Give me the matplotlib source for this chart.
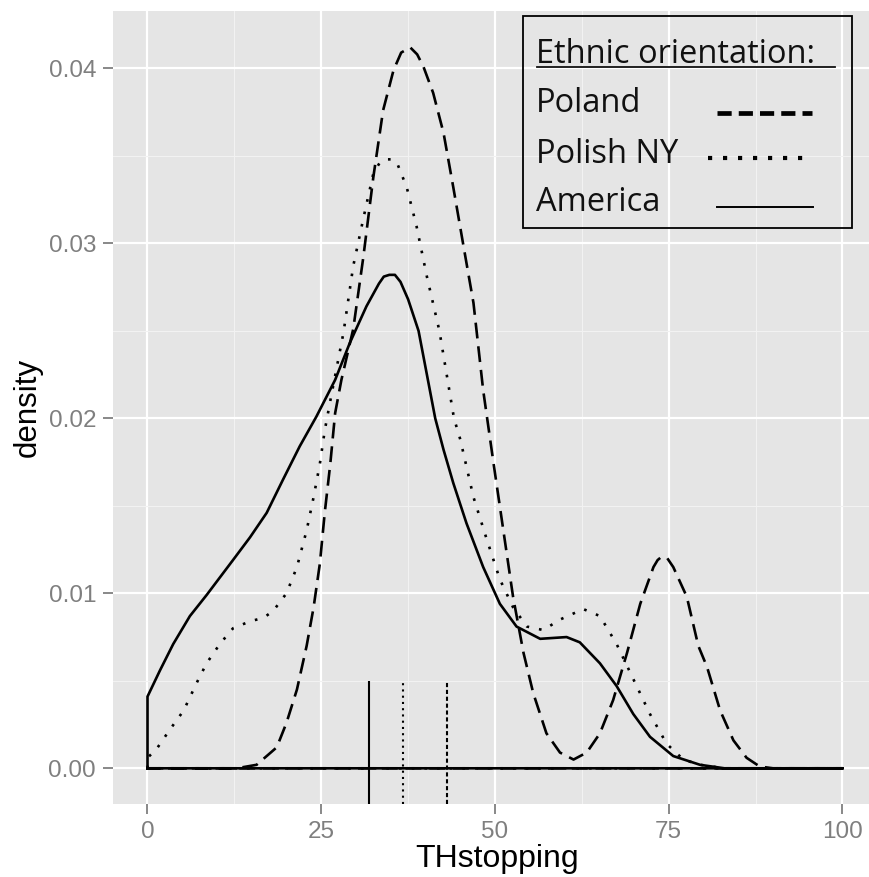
import numpy as np
import matplotlib
matplotlib.use('Agg')
import matplotlib.pyplot as plt
from matplotlib.lines import Line2D
from matplotlib.patches import Rectangle

# density curves (THstopping, density)
america_x = [0, 0, 1.8, 3.7, 6.1, 8.5, 10.4, 12.3, 14.75, 17.15, 19.5, 21.9, 24.3, 27.0, 29.1,
             31.5, 33.3, 34.0, 34.8, 35.6, 36.4, 37.5, 39.0, 40.2, 41.4, 42.6, 44.0, 45.9,
             48.3, 50.7, 53.1, 56.5, 60.3, 62.2, 65.1, 67.5, 69.9, 72.3, 75.65, 79.5, 83, 100]
america_y = [0, 0.0041, 0.0056, 0.0071, 0.0087, 0.0099, 0.0109, 0.0119, 0.0132, 0.0146, 0.0165,
             0.0184, 0.0201, 0.0222, 0.0243, 0.0264, 0.0277, 0.0281, 0.0282, 0.0282, 0.0278,
             0.0268, 0.0250, 0.0225, 0.0200, 0.0182, 0.0163, 0.0140, 0.0115, 0.0094, 0.0081,
             0.0074, 0.0075, 0.0072, 0.0060, 0.0047, 0.0031, 0.0018, 0.0007, 0.0002, 0.0, 0.0]

polish_ny_x = [0, 0, 1.3, 3.2, 5.2, 7.1, 8.5, 10.4, 12.3, 14.75, 16.7, 18.1, 20.0, 21.5, 22.9,
               23.9, 24.8, 25.5, 26.3, 28.2, 29.6, 31.1, 32.5, 33.4, 34.2, 35.0, 35.9, 37.3,
               38.7, 40.2, 42.0, 44.1, 45.0, 46.9, 48.8, 50.7, 52.6, 54.6, 56.95, 59.35, 62.7,
               65.1, 67.5, 69.9, 72.3, 74.7, 77.1, 79.5, 83, 100]
polish_ny_y = [0, 0.0006, 0.0011, 0.0022, 0.0033, 0.0049, 0.0060, 0.0071, 0.0080, 0.0084, 0.0086,
               0.0090, 0.0100, 0.0115, 0.0136, 0.0155, 0.0174, 0.0193, 0.0210, 0.0249, 0.0287,
               0.0315, 0.0340, 0.0346, 0.0348, 0.0348, 0.0346, 0.0332, 0.0310, 0.0281, 0.0250,
               0.0200, 0.0188, 0.0155, 0.0131, 0.0108, 0.0092, 0.0081, 0.0079, 0.0085, 0.0091,
               0.0087, 0.0071, 0.0051, 0.0031, 0.0014, 0.0005, 0.0002, 0.0, 0.0]

poland_x = [0, 12.8, 15.7, 18.6, 20.0, 21.5, 22.9, 23.9, 24.8, 25.5, 26.3, 27.0, 27.9, 29.6,
            31.05, 32.5, 33.9, 35.4, 36.5, 37.8, 38.8, 39.7, 41.1, 42.6, 44.0, 45.4, 46.9,
            48.3, 49.8, 51.2, 52.6, 54.1, 55.5, 57.4, 59.35, 61.3, 63.2, 65.1, 67.0, 69.0,
            70.9, 72.8, 73.4, 74.0, 74.8, 75.65, 77.6, 79.25, 80.5, 82.4, 84.3, 86.2, 88.1,
            90, 100]
poland_y = [0, 0, 0.0002, 0.0012, 0.0026, 0.0045, 0.0070, 0.0092, 0.0117, 0.0146, 0.0174,
            0.0203, 0.0222, 0.0251, 0.0292, 0.0338, 0.0376, 0.0399, 0.0409, 0.0412, 0.0408,
            0.0401, 0.0386, 0.0363, 0.0332, 0.0300, 0.0266, 0.0216, 0.0174, 0.0136, 0.0098,
            0.0066, 0.0043, 0.0020, 0.0009, 0.0005, 0.0009, 0.0020, 0.0039, 0.0066, 0.0094,
            0.0115, 0.0119, 0.0121, 0.0120, 0.0115, 0.0098, 0.0070, 0.0058, 0.0033, 0.0016,
            0.0006, 0.0001, 0.0, 0.0]

# group means (vertical reference segments)
mean_america = 31.9
mean_polish_ny = 36.7
mean_poland = 43.05
mean_top = 0.005

W, H = 870, 877
fig = plt.figure(figsize=(W / 100, H / 100), dpi=100)


def fx(px):
    return px / W


def fy(py):
    return 1 - py / H


# panel: x=-5 at 112.75px, x=105 at 877.25px (cropped at the right edge)
ax = fig.add_axes([fx(112.75), fy(804), (877.25 - 112.75) / W, (804 - 11.5) / H])
ax.set_facecolor('#E5E5E5')
ax.set_xlim(-5, 105)
ax.set_ylim(-0.00204, 0.04325)
for s in ax.spines.values():
    s.set_visible(False)

ax.set_xticks([0, 25, 50, 75, 100])
ax.set_xticklabels(['0', '25', '50', '75', '100'])
ax.set_yticks([0, 0.01, 0.02, 0.03, 0.04])
ax.set_yticklabels(['0.00', '0.01', '0.02', '0.03', '0.04'])
ax.set_xticks([12.5, 37.5, 62.5, 87.5], minor=True)
ax.set_yticks([0.005, 0.015, 0.025, 0.035], minor=True)
ax.grid(True, which='major', color='white', lw=1.6)
ax.grid(True, which='minor', color='#F2F2F2', lw=0.8)
ax.set_axisbelow(True)
ax.tick_params(which='major', length=7, width=1.3, color='#7F7F7F', labelcolor='#7F7F7F',
               labelsize=17.5, pad=5)
ax.tick_params(which='minor', length=0)
for lab in ax.get_xticklabels() + ax.get_yticklabels():
    lab.set_family('Liberation Sans')

lw = 1.9


def closed(x, y):
    return np.r_[x, x[0]], np.r_[y, y[0]]


ax.plot(*closed(poland_x, poland_y), color='black', lw=lw, dashes=(6, 3))
ax.plot(*closed(polish_ny_x, polish_ny_y), color='black', lw=lw, dashes=(1, 3.8))
ax.plot(*closed(america_x, america_y), color='black', lw=lw)

ybot = ax.get_ylim()[0]
ax.vlines(mean_america, ybot, mean_top, color='black', lw=1.5)
ax.vlines(mean_polish_ny, ybot, mean_top, color='black', lw=1.5, linestyles=[(0, (1, 2.0))])
ax.vlines(mean_poland, ybot, mean_top, color='black', lw=1.5, linestyles=[(0, (2.0, 1.3))])

fig.text(fx(497), fy(867), 'THstopping', ha='center', va='baseline', fontsize=23,
         family='Liberation Sans')
fig.text(fx(28), fy(407), 'density', ha='center', va='center', rotation=90, fontsize=22.5,
         family='Liberation Sans')

# hand made legend box
fig.patches.append(Rectangle((fx(523), fy(228)), (852 - 523) / W, (228 - 16) / H,
                             transform=fig.transFigure, fill=False, ec='black', lw=1.3))
lfont = dict(fontsize=23.5, family='Open Sans', va='baseline', ha='left', color='#111111')
fig.text(fx(536), fy(63), 'Ethnic orientation:', **lfont)
fig.lines.append(Line2D([fx(537), fx(835)], [fy(67), fy(67)], transform=fig.transFigure,
                        color='#111111', lw=1.3))
fig.text(fx(536), fy(112), 'Poland', **lfont)
fig.text(fx(536), fy(163), 'Polish NY', **lfont)
fig.text(fx(536), fy(211), 'America', **lfont)
fig.lines.append(Line2D([fx(717), fx(812)], [fy(113), fy(113)], transform=fig.transFigure,
                        color='black', lw=3.4, dashes=(3.0, 1.5)))
fig.lines.append(Line2D([fx(708), fx(806)], [fy(158), fy(158)], transform=fig.transFigure,
                        color='black', lw=3.0, dashes=(1, 2.6)))
fig.lines.append(Line2D([fx(717), fx(813)], [fy(207), fy(207)], transform=fig.transFigure,
                        color='black', lw=1.4))

fig.savefig('out.png', dpi=100)
